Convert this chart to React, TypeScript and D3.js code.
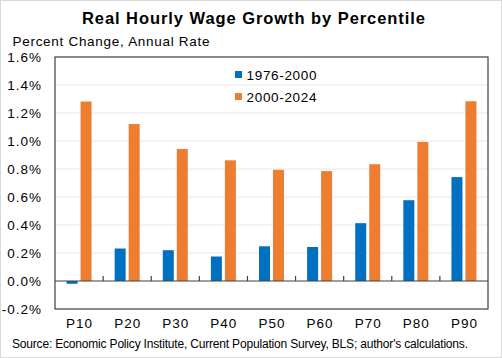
import React from "react";
import * as d3 from "d3";

const categories = ["P10", "P20", "P30", "P40", "P50", "P60", "P70", "P80", "P90"];
const seriesNames = ["1976-2000", "2000-2024"];
const series1976 = [-0.02, 0.232, 0.22, 0.175, 0.248, 0.243, 0.413, 0.577, 0.742];
const series2000 = [1.282, 1.121, 0.943, 0.862, 0.794, 0.785, 0.834, 0.993, 1.284];
const yTicks = [-0.2, 0, 0.2, 0.4, 0.6, 0.8, 1.0, 1.2, 1.4, 1.6];
const colors = ["#0070C0", "#ED7D31"];

const W = 502;
const H = 358;
const plot = { left: 55, right: 488, top: 57, bottom: 309 };
const FONT = "'Liberation Sans', Arial, sans-serif";

export default function App() {
  const x0 = d3.scaleBand<string>().domain(categories).range([plot.left, plot.right]).padding(0);
  const bw = x0.bandwidth();
  const x1 = d3
    .scaleBand<string>()
    .domain(seriesNames)
    .range([bw / 2 - 12.5, bw / 2 + 12.5])
    .paddingInner(2 - 25 / 14)
    .paddingOuter(0);
  const y = d3.scaleLinear().domain([-0.2, 1.6]).range([plot.bottom, plot.top]);
  const data = [series1976, series2000];

  return (
    <svg
      width={W}
      height={H}
      style={{ position: "absolute", left: 0, top: 0, background: "#fff" }}
      fontFamily={FONT}
    >
      <rect x={0.5} y={0.5} width={W - 1} height={H - 1} fill="#fff" stroke="#d9d9d9" />
      <text x={82} y={24} fontSize={16.5} fontWeight="bold" fill="#000" textLength={343} lengthAdjust="spacing">
        Real Hourly Wage Growth by Percentile
      </text>
      <text x={12.5} y={46} fontSize={13.5} fill="#000" textLength={197} lengthAdjust="spacing">
        Percent Change, Annual Rate
      </text>
      {yTicks.map((t) => (
        <g key={t}>
          {t !== 0 && t !== -0.2 && t !== 1.6 && (
            <line x1={plot.left} x2={plot.right} y1={y(t)} y2={y(t)} stroke="#e8e8e8" strokeWidth={1} />
          )}
          <text x={42} y={y(t) + 5} textAnchor="end" fontSize={13.5} fill="#000" letterSpacing={1}>
            {t.toFixed(1) + "%"}
          </text>
        </g>
      ))}
      {data.map((vals, si) =>
        vals.map((v, i) => {
          const xp = (x0(categories[i]) as number) + (x1(seriesNames[si]) as number);
          return (
            <rect
              key={si + "-" + i}
              x={xp}
              y={Math.min(y(v), y(0))}
              width={x1.bandwidth()}
              height={Math.abs(y(v) - y(0))}
              fill={colors[si]}
            />
          );
        })
      )}
      <line x1={plot.left} x2={plot.right} y1={y(0)} y2={y(0)} stroke="#404040" strokeWidth={1.2} />
      {categories.slice(1).map((c) => (
        <line
          key={c}
          x1={x0(c) as number}
          x2={x0(c) as number}
          y1={y(0)}
          y2={y(0) - 5}
          stroke="#404040"
          strokeWidth={1.2}
        />
      ))}
      <rect
        x={plot.left}
        y={plot.top}
        width={plot.right - plot.left}
        height={plot.bottom - plot.top}
        fill="none"
        stroke="#404040"
        strokeWidth={1.2}
      />
      {categories.map((c) => (
        <text
          key={c}
          x={(x0(c) as number) + bw / 2 + 0.5}
          y={328}
          textAnchor="middle"
          fontSize={13.5}
          fill="#000"
          letterSpacing={1}
        >
          {c}
        </text>
      ))}
      {seriesNames.map((s, i) => (
        <g key={s}>
          <rect x={235} y={71 + i * 22} width={7} height={7} fill={colors[i]} />
          <text x={246.5} y={79.5 + i * 22} fontSize={13.5} fill="#000" textLength={70} lengthAdjust="spacing">
            {s}
          </text>
        </g>
      ))}
      <text x={12} y={348} fontSize={12} fill="#000" textLength={456} lengthAdjust="spacing">
        Source: Economic Policy Institute, Current Population Survey, BLS; author's calculations.
      </text>
    </svg>
  );
}
